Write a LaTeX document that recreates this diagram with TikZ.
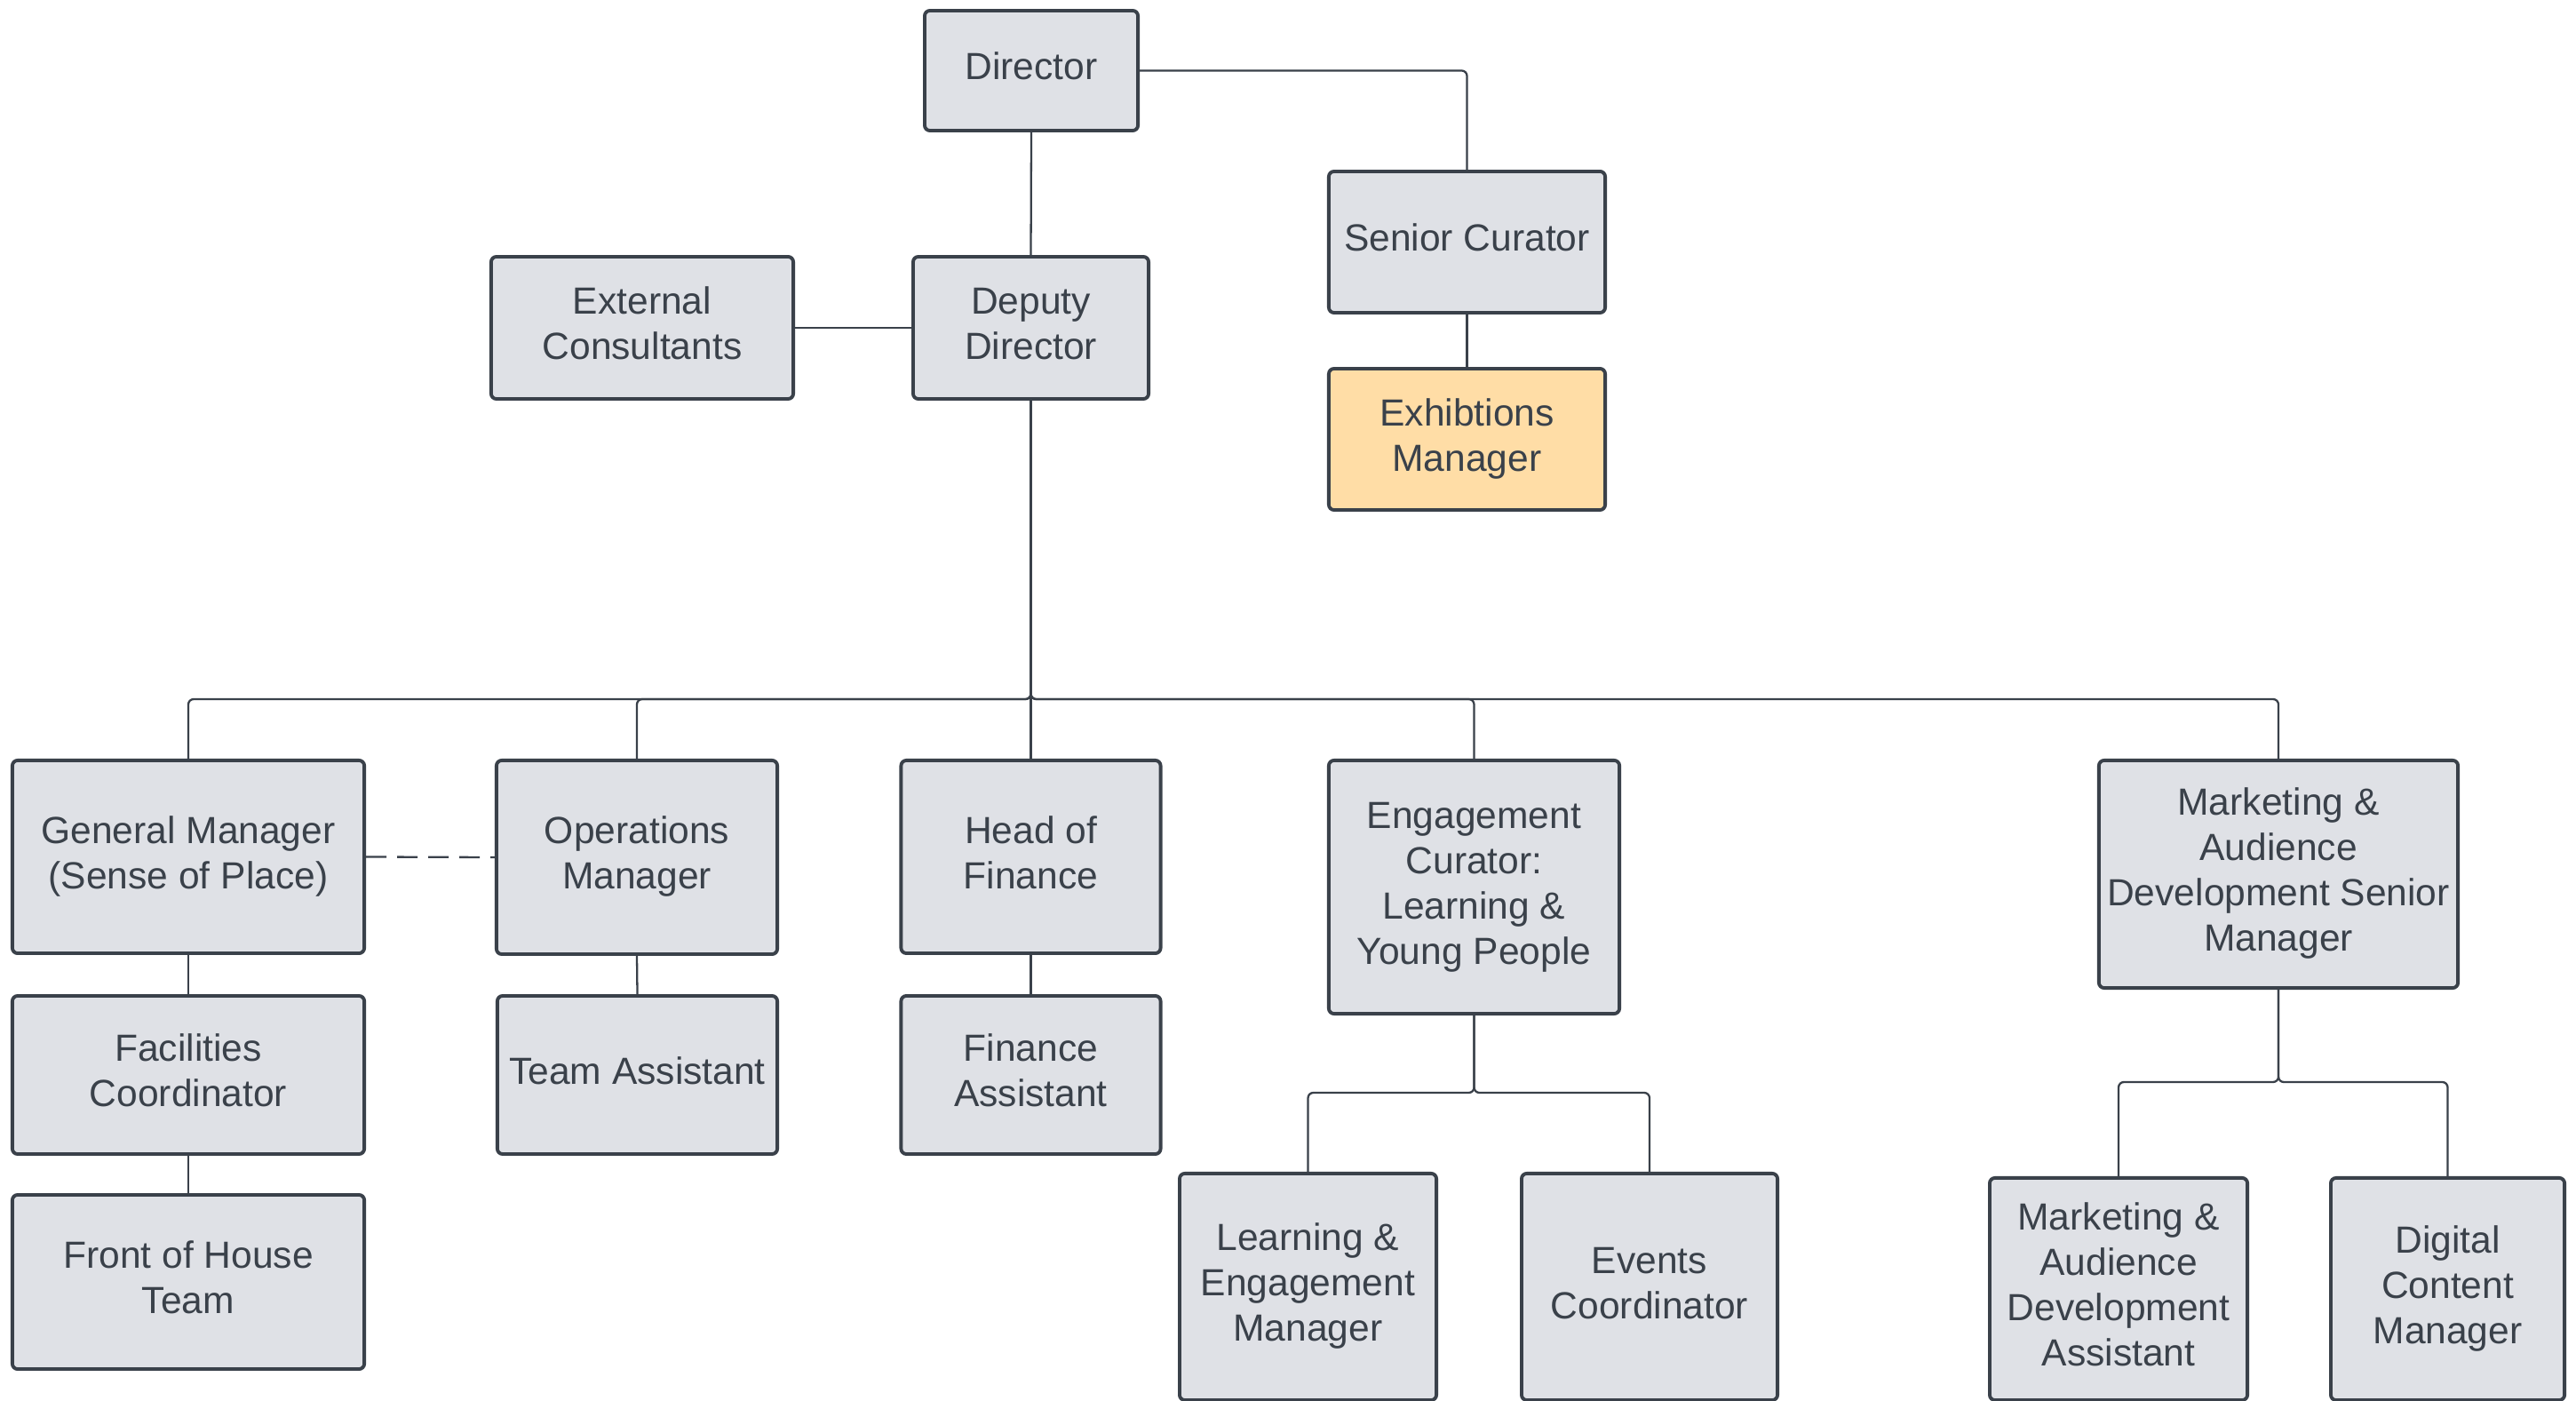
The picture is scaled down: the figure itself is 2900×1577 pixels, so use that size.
\documentclass[tikz,border=0pt]{standalone}
\usepackage{fontspec}
\setmainfont{Liberation Sans}
\usetikzlibrary{calc}
\definecolor{bfill}{HTML}{DFE1E6}
\definecolor{bline}{HTML}{3A414A}
\definecolor{ofill}{HTML}{FFDDA6}
\begin{document}
\begin{tikzpicture}[x=0.01cm,y=-0.01cm,
  box/.style={draw=bline, line width=1.1pt, fill=bfill, rounded corners=0.06cm,
    align=center, inner sep=0pt, text=bline,
    font=\fontsize{12.1pt}{14.5pt}\selectfont},
  conn/.style={draw=bline, line width=0.65pt, rounded corners=0.06cm},
  dconn/.style={draw=bline, line width=0.65pt, dash pattern=on 0.23cm off 0.12cm}]
\useasboundingbox (0,0) rectangle (2900,1577);
\fill[white] (0,0) rectangle (2900,1577);
\clip (0,0) rectangle (2900,1577);

% top
\node[box, minimum width=2.40cm, minimum height=1.35cm] (dir) at (1161,79.5) {\strut Director};
\node[box, minimum width=3.40cm, minimum height=1.60cm] (ext) at (723,369) {\strut External\\\strut Consultants};
\node[box, minimum width=2.65cm, minimum height=1.60cm] (dd) at (1160.5,369) {\strut Deputy\\\strut Director};
\node[box, minimum width=3.11cm, minimum height=1.59cm] (sc) at (1651.5,272.5) {\strut Senior Curator};
\node[box, fill=ofill, minimum width=3.11cm, minimum height=1.59cm] (exh) at (1651.5,494.5) {\strut Exhibtions\\\strut Manager};

% second row
\node[box, minimum width=3.96cm, minimum height=2.17cm] (gm) at (212,964.5) {\strut General Manager\\\strut (Sense of Place)};
\node[box, minimum width=3.16cm, minimum height=2.18cm] (ops) at (717,965) {\strut Operations\\\strut Manager};
\node[box, minimum width=2.92cm, minimum height=2.17cm] (hof) at (1160.5,964.5) {\strut Head of\\\strut Finance};
\node[box, minimum width=3.27cm, minimum height=2.85cm] (eng) at (1659.5,998.5) {\strut Engagement\\\strut Curator:\\\strut Learning \&\\\strut Young People};
\node[box, minimum width=4.04cm, minimum height=2.56cm] (mkt) at (2565,984) {\strut Marketing \&\\\strut Audience\\\strut Development Senior\\\strut Manager};

% third row
\node[box, minimum width=3.96cm, minimum height=1.78cm] (fac) at (212,1210) {\strut Facilities\\\strut Coordinator};
\node[box, minimum width=3.15cm, minimum height=1.78cm] (ta) at (717.5,1210) {\strut Team Assistant};
\node[box, minimum width=2.92cm, minimum height=1.78cm] (fa) at (1160.5,1210) {\strut Finance\\\strut Assistant};
\node[box, minimum width=3.96cm, minimum height=1.96cm] (foh) at (212,1443) {\strut Front of House\\\strut Team};

% bottom row
\node[box, minimum width=2.89cm, minimum height=2.55cm] (lem) at (1472.5,1448.5) {\strut Learning \&\\\strut Engagement\\\strut Manager};
\node[box, minimum width=2.88cm, minimum height=2.55cm] (evc) at (1857,1448.5) {\strut Events\\\strut Coordinator};
\node[box, minimum width=2.90cm, minimum height=2.50cm] (mada) at (2385,1451) {\strut Marketing \&\\\strut Audience\\\strut Development\\\strut Assistant};
\node[box, minimum width=2.63cm, minimum height=2.50cm] (dcm) at (2755.5,1451) {\strut Digital\\\strut Content\\\strut Manager};

% helper coordinates
\coordinate (bus) at (0,787);
\coordinate (engbus) at (0,1230);
\coordinate (mktbus) at (0,1218);

% connectors
\draw[conn] (dir.east) -| (sc.north);
\draw[conn] (dir.south) -- (dd.north);
\draw[conn] (ext.east) -- (dd.west);
\draw[conn] (sc.south) -- (exh.north);

\draw[conn] (dd.south) -- (dd.south |- bus) -| (gm.north);
\draw[conn] (dd.south) -- (dd.south |- bus) -| (ops.north);
\draw[conn] (dd.south) -- (hof.north);
\draw[conn] (dd.south) -- (dd.south |- bus) -| (eng.north);
\draw[conn] (dd.south) -- (dd.south |- bus) -| (mkt.north);

\draw[dconn] (gm.east) -- (ops.west);

\draw[conn] (gm.south) -- (fac.north);
\draw[conn] (fac.south) -- (foh.north);
\draw[conn] (ops.south) -- (ta.north);
\draw[conn] (hof.south) -- (fa.north);

\draw[conn] (eng.south) -- (eng.south |- engbus) -| (lem.north);
\draw[conn] (eng.south) -- (eng.south |- engbus) -| (evc.north);
\draw[conn] (mkt.south) -- (mkt.south |- mktbus) -| (mada.north);
\draw[conn] (mkt.south) -- (mkt.south |- mktbus) -| (dcm.north);
\end{tikzpicture}
\end{document}
